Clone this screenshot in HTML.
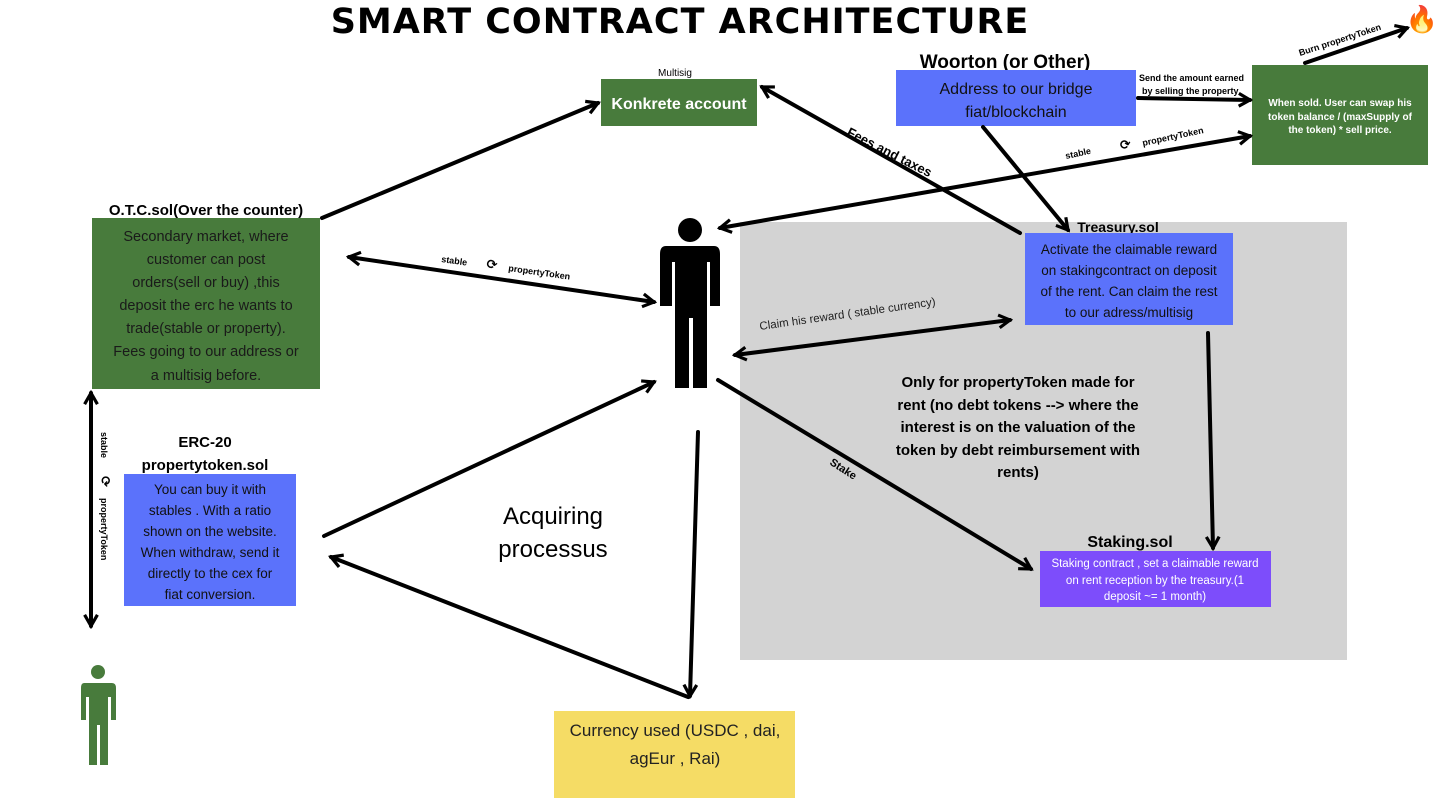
<!DOCTYPE html>
<html><head><meta charset="utf-8"><style>
html,body{margin:0;padding:0;background:#fff;}
svg{display:block;}
text{font-family:"Liberation Sans","DejaVu Sans",sans-serif;}
</style></head><body>
<svg width="1440" height="809" viewBox="0 0 1440 809" xmlns="http://www.w3.org/2000/svg">
<defs>
<marker id="a" viewBox="0 0 10 10" refX="8" refY="5" markerWidth="4" markerHeight="4" orient="auto-start-reverse" markerUnits="strokeWidth">
<path d="M1,1 L8,5 L1,9" fill="none" stroke="#000" stroke-width="2"/>
</marker>
</defs>
<rect x="740" y="222" width="607" height="438" fill="#d3d3d3"/>
<text x="680" y="33" text-anchor="middle" font-size="35" font-weight="900" fill="#000" style="font-family:'DejaVu Sans',sans-serif;letter-spacing:1px">SMART CONTRACT ARCHITECTURE</text>

<!-- boxes -->
<text x="675" y="76" text-anchor="middle" font-size="10">Multisig</text>
<rect x="601" y="79" width="156" height="47" fill="#487b3c"/>
<text x="679" y="109" text-anchor="middle" font-size="16" font-weight="bold" fill="#fff">Konkrete account</text>

<text x="1005" y="68" text-anchor="middle" font-size="19" font-weight="bold">Woorton (or  Other)</text>
<rect x="896" y="70" width="240" height="56" fill="#5b72fb"/>
<text x="1016" y="94" text-anchor="middle" font-size="16" fill="#111">Address to our bridge</text>
<text x="1016" y="117" text-anchor="middle" font-size="16" fill="#111">fiat/blockchain</text>

<rect x="1252" y="65" width="176" height="100" fill="#487b3c"/>
<g font-size="10" font-weight="bold" fill="#fff" text-anchor="middle">
<text x="1340" y="106">When sold. User can swap his</text>
<text x="1340" y="120">token  balance / (maxSupply of</text>
<text x="1340" y="133">the token)  * sell price.</text>
</g>
<text x="1422" y="28" text-anchor="middle" font-size="26" fill="#f55">🔥</text>

<text x="206" y="215" text-anchor="middle" font-size="15" font-weight="bold">O.T.C.sol(Over the counter)</text>
<rect x="92" y="218" width="228" height="171" fill="#487b3c"/>
<g font-size="14.5" fill="#1a1a1a" text-anchor="middle">
<text x="206" y="241">Secondary market, where</text>
<text x="206" y="264">customer can post</text>
<text x="206" y="287">orders(sell or buy) ,this</text>
<text x="206" y="310">deposit the erc he wants to</text>
<text x="206" y="333">trade(stable or property).</text>
<text x="206" y="356">Fees going to our address or</text>
<text x="206" y="380">a multisig before.</text>
</g>

<text x="205" y="447" text-anchor="middle" font-size="15" font-weight="bold">ERC-20</text>
<text x="205" y="470" text-anchor="middle" font-size="15" font-weight="bold">propertytoken.sol</text>
<rect x="124" y="474" width="172" height="132" fill="#5b72fb"/>
<g font-size="13.5" fill="#111" text-anchor="middle">
<text x="210" y="494">You can buy it  with</text>
<text x="210" y="515">stables . With a ratio</text>
<text x="210" y="536">shown on the website.</text>
<text x="210" y="557">When withdraw, send it</text>
<text x="210" y="578">directly  to the cex for</text>
<text x="210" y="599">fiat conversion.</text>
</g>

<text x="1118" y="232" text-anchor="middle" font-size="14" font-weight="bold">Treasury.sol</text>
<rect x="1025" y="233" width="208" height="92" fill="#5b72fb"/>
<g font-size="13.5" fill="#111" text-anchor="middle">
<text x="1129" y="254">Activate the claimable reward</text>
<text x="1129" y="275">on stakingcontract on deposit</text>
<text x="1129" y="296">of the rent. Can claim the rest</text>
<text x="1129" y="317">to our adress/multisig</text>
</g>

<g font-size="15" font-weight="bold" text-anchor="middle">
<text x="1018" y="387">Only for propertyToken made for</text>
<text x="1018" y="410">rent (no debt tokens --&gt; where the</text>
<text x="1018" y="432">interest is on the valuation of the</text>
<text x="1018" y="455">token by debt reimbursement with</text>
<text x="1018" y="477">rents)</text>
</g>

<text x="1130" y="547" text-anchor="middle" font-size="16" font-weight="bold">Staking.sol</text>
<rect x="1040" y="551" width="231" height="56" fill="#7d4dfb"/>
<g font-size="11.5" fill="#fff" text-anchor="middle">
<text x="1155" y="567">Staking contract , set a claimable reward</text>
<text x="1155" y="584">on rent reception by the treasury.(1</text>
<text x="1155" y="600">deposit ~= 1 month)</text>
</g>

<rect x="554" y="711" width="241" height="87" fill="#f5dc65"/>
<text x="675" y="736" text-anchor="middle" font-size="17" fill="#222">Currency used (USDC , dai,</text>
<text x="675" y="764" text-anchor="middle" font-size="17" fill="#222">agEur , Rai)</text>

<text x="553" y="524" text-anchor="middle" font-size="24">Acquiring</text>
<text x="553" y="557" text-anchor="middle" font-size="24">processus</text>

<!-- person -->
<g fill="#000">
<circle cx="690" cy="230" r="12"/>
<path d="M666,246 H714 Q720,246 720,254 V306 H710 V262 H707 V388 H693 V318 H689 V388 H675 V262 H672 V306 H660 V254 Q660,246 666,246 Z"/>
</g>
<g fill="#487b3c">
<circle cx="98" cy="672" r="7"/>
<path d="M84,683 H112 Q116,683 116,688 V720 H111 V697 H108 V765 H100 V725 H97 V765 H89 V697 H86 V720 H81 V688 Q81,683 84,683 Z"/>
</g>

<!-- arrows -->
<g stroke="#000" stroke-width="4" fill="none" stroke-linecap="round">
<line x1="322" y1="218" x2="598" y2="103" marker-end="url(#a)"/>
<line x1="1020" y1="233" x2="762" y2="87" marker-end="url(#a)"/>
<line x1="983" y1="127" x2="1068" y2="230" marker-end="url(#a)"/>
<line x1="1138" y1="98" x2="1250" y2="100" marker-end="url(#a)"/>
<line x1="1305" y1="63" x2="1407" y2="28" marker-end="url(#a)"/>
<line x1="720" y1="228" x2="1250" y2="136" marker-start="url(#a)" marker-end="url(#a)"/>
<line x1="349" y1="257" x2="654" y2="302" marker-start="url(#a)" marker-end="url(#a)"/>
<line x1="735" y1="355" x2="1010" y2="320" marker-start="url(#a)" marker-end="url(#a)"/>
<line x1="1208" y1="333" x2="1213" y2="548" marker-end="url(#a)"/>
<line x1="718" y1="380" x2="1031" y2="569" marker-end="url(#a)"/>
<line x1="324" y1="536" x2="654" y2="382" marker-end="url(#a)"/>
<line x1="698" y1="432" x2="690" y2="696" marker-end="url(#a)"/>
<line x1="688" y1="697" x2="331" y2="557" marker-end="url(#a)"/>
<line x1="91" y1="393" x2="91" y2="626" marker-start="url(#a)" marker-end="url(#a)"/>
</g>

<!-- arrow labels -->
<g font-size="9" font-weight="bold">
<text x="1139" y="81">Send the amount earned</text>
<text x="1142" y="94">by selling  the property</text>
<text transform="translate(1300,56) rotate(-18)">Burn propertyToken</text>
<text transform="translate(1066,159) rotate(-12)">stable</text>
<text transform="translate(1143,146) rotate(-12)">propertyToken</text>
<text transform="translate(1121,150) rotate(-12)" font-size="13">⟳</text>
<text transform="translate(441,262) rotate(8)">stable</text>
<text transform="translate(508,271) rotate(8)">propertyToken</text>
<text transform="translate(486,268) rotate(8)" font-size="13">⟳</text>
<text transform="translate(101,432) rotate(90)">stable</text>
<text transform="translate(101,476) rotate(90)" font-size="13">⟳</text>
<text transform="translate(101,498) rotate(90)">propertyToken</text>
<text transform="translate(829,464) rotate(33)" font-size="11">Stake</text>
</g>
<text transform="translate(846,135) rotate(27)" font-size="13" font-weight="bold">Fees and taxes</text>
<text transform="translate(760,330) rotate(-8)" font-size="11.5" fill="#222">Claim his reward ( stable currency)</text>
</svg>
</body></html>
